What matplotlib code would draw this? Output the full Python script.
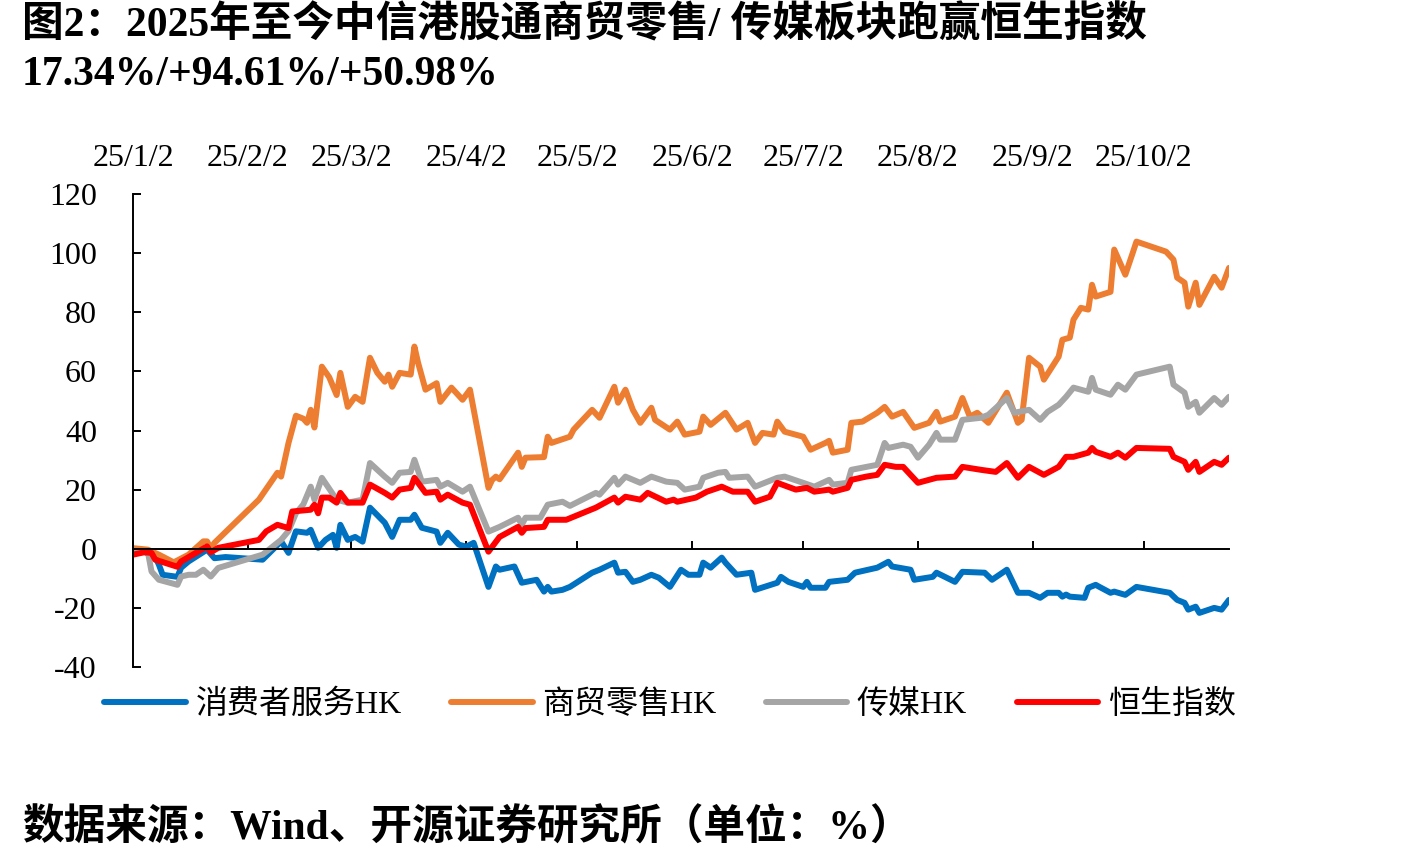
# -*- coding: utf-8 -*-
# 2025年至今 中信港股通 消费者服务 / 商贸零售 / 传媒 与 恒生指数 累计涨跌幅 (%)
import matplotlib
matplotlib.use("Agg")
import matplotlib.pyplot as plt
import pandas as pd

plt.rcParams['font.family'] = ['Liberation Serif', 'Noto Sans CJK SC']
plt.rcParams['axes.unicode_minus'] = False

# 数据 (读图估计, 单位 %)
blue_dates = ["01-02", "01-05", "01-08", "01-09", "01-10", "01-14", "01-15", "01-17", "01-22", "01-24",
              "01-27", "02-06", "02-11", "02-13", "02-15", "02-18", "02-19", "02-21", "02-23", "02-25",
              "02-26", "02-27", "03-01", "03-03", "03-05", "03-07", "03-11", "03-13", "03-15", "03-18",
              "03-19", "03-21", "03-25", "03-26", "03-28", "03-31", "04-02", "04-04", "04-08", "04-10",
              "04-11", "04-15", "04-17", "04-21", "04-23", "04-24", "04-25", "04-28", "04-30", "05-06",
              "05-08", "05-12", "05-13", "05-15", "05-17", "05-19", "05-22", "05-24", "05-27", "05-30",
              "06-01", "06-04", "06-05", "06-07", "06-10", "06-11", "06-14", "06-18", "06-19", "06-25",
              "06-26", "06-28", "07-02", "07-03", "07-04", "07-08", "07-09", "07-14", "07-16", "07-22",
              "07-25", "07-26", "07-31", "08-01", "08-06", "08-07", "08-12", "08-14", "08-20", "08-22",
              "08-26", "08-29", "09-01", "09-04", "09-06", "09-09", "09-10", "09-11", "09-12", "09-16",
              "09-17", "09-19", "09-20", "09-23", "09-24", "09-27", "09-30", "10-09", "10-11", "10-13",
              "10-14", "10-16", "10-17", "10-21", "10-23", "10-25"]
blue_vals = [-1.0, -1.0, -2.7, -5.4, -8.8, -9.5, -6.4, -4.3, -0.3, -3.2,
             -2.8, -3.7, 2.5, -1.4, 5.9, 5.4, 6.4, 0.3, 3.0, 4.7,
             0.3, 8.1, 3.0, 4.0, 2.4, 13.9, 8.8, 4.0, 9.8, 9.8,
             11.5, 7.1, 5.8, 2.0, 5.4, 1.4, 0.7, 2.0, -12.9, -6.0,
             -7.1, -6.0, -11.5, -10.5, -14.5, -12.9, -14.5, -13.9, -12.9, -8.1,
             -7.1, -4.7, -8.1, -7.8, -11.2, -10.5, -8.8, -9.8, -12.9, -7.1,
             -8.8, -8.8, -4.7, -6.4, -3.0, -4.7, -8.8, -8.1, -13.9, -11.5,
             -9.5, -11.2, -12.9, -11.2, -13.2, -13.2, -11.2, -10.5, -8.1, -6.4,
             -4.4, -6.0, -7.1, -10.5, -9.5, -8.1, -11.2, -7.8, -8.1, -10.5,
             -7.1, -14.9, -14.9, -16.6, -14.9, -14.9, -16.2, -15.5, -16.2, -16.6,
             -13.2, -12.2, -12.9, -14.9, -14.5, -15.6, -12.9, -14.9, -17.3, -18.3,
             -20.6, -19.6, -21.7, -20.0, -20.6, -17.3]

orange_dates = ["01-02", "01-06", "01-09", "01-13", "01-17", "01-21", "01-22", "01-23", "01-24", "02-05",
                "02-10", "02-11", "02-13", "02-15", "02-17", "02-18", "02-19", "02-20", "02-22", "02-24",
                "02-26", "02-27", "03-01", "03-03", "03-05", "03-07", "03-09", "03-11", "03-12", "03-13",
                "03-15", "03-18", "03-19", "03-20", "03-22", "03-25", "03-26", "03-29", "04-01", "04-03",
                "04-08", "04-09", "04-10", "04-11", "04-16", "04-17", "04-18", "04-23", "04-24", "04-25",
                "04-30", "05-01", "05-06", "05-08", "05-12", "05-13", "05-15", "05-17", "05-19", "05-22",
                "05-23", "05-27", "05-29", "05-31", "06-04", "06-05", "06-07", "06-11", "06-14", "06-17",
                "06-19", "06-21", "06-24", "06-25", "06-27", "07-02", "07-04", "07-08", "07-09", "07-10",
                "07-14", "07-15", "07-18", "07-22", "07-24", "07-26", "07-29", "08-01", "08-05", "08-07",
                "08-08", "08-12", "08-14", "08-16", "08-18", "08-21", "08-26", "08-29", "08-30", "09-01",
                "09-04", "09-05", "09-09", "09-10", "09-12", "09-13", "09-15", "09-17", "09-18", "09-19",
                "09-23", "09-24", "09-27", "09-29", "09-30", "10-08", "10-10", "10-11", "10-13", "10-14",
                "10-16", "10-17", "10-21", "10-23", "10-25"]
orange_vals = [0.2, -0.3, -2.0, -4.6, -2.0, 2.5, 2.5, 0.2, 2.0, 16.6,
               25.7, 24.4, 35.8, 45.0, 44.0, 42.6, 47.0, 41.0, 61.6, 58.0,
               52.0, 59.5, 48.0, 51.4, 49.7, 64.6, 59.5, 56.5, 58.9, 54.8,
               59.5, 58.9, 68.4, 62.9, 53.8, 56.0, 49.7, 54.5, 50.4, 53.8,
               20.6, 23.3, 24.4, 23.5, 32.5, 27.7, 30.8, 31.0, 37.9, 35.8,
               37.9, 40.3, 47.0, 44.3, 54.8, 49.4, 53.8, 47.0, 42.6, 47.7,
               43.6, 40.3, 43.0, 38.6, 39.6, 44.7, 41.9, 46.0, 40.3, 42.6,
               35.8, 39.2, 38.6, 43.0, 39.6, 37.9, 33.5, 35.8, 36.5, 32.5,
               33.5, 42.6, 43.0, 46.0, 48.0, 44.7, 46.3, 40.9, 42.6, 46.3,
               43.0, 44.7, 51.0, 44.7, 46.0, 42.6, 52.8, 42.6, 43.6, 64.6,
               61.6, 57.2, 65.0, 70.7, 71.4, 77.5, 81.5, 80.9, 89.3, 85.3,
               86.9, 101.2, 92.7, 100.1, 103.9, 100.5, 97.8, 91.7, 90.0, 81.9,
               90.0, 82.5, 92.0, 88.3, 95.0]

gray_dates = ["01-02", "01-06", "01-07", "01-09", "01-14", "01-15", "01-17", "01-19", "01-21", "01-23",
              "01-25", "02-06", "02-11", "02-13", "02-15", "02-17", "02-19", "02-20", "02-22", "02-26",
              "03-01", "03-05", "03-07", "03-11", "03-13", "03-15", "03-18", "03-19", "03-21", "03-25",
              "03-26", "03-28", "04-01", "04-03", "04-08", "04-11", "04-16", "04-17", "04-18", "04-22",
              "04-24", "04-28", "04-30", "05-07", "05-08", "05-12", "05-13", "05-15", "05-19", "05-22",
              "05-26", "05-29", "05-31", "06-04", "06-05", "06-09", "06-11", "06-12", "06-17", "06-19",
              "06-25", "06-27", "07-02", "07-05", "07-09", "07-10", "07-14", "07-15", "07-22", "07-24",
              "07-25", "07-29", "07-31", "08-02", "08-05", "08-07", "08-08", "08-12", "08-14", "08-19",
              "08-21", "08-26", "08-28", "09-01", "09-04", "09-06", "09-09", "09-11", "09-13", "09-17",
              "09-18", "09-19", "09-23", "09-25", "09-27", "09-30", "10-09", "10-10", "10-13", "10-14",
              "10-16", "10-17", "10-21", "10-23", "10-25"]
gray_vals = [-0.6, -1.0, -7.7, -10.5, -12.2, -9.4, -8.8, -8.8, -7.1, -9.4,
             -6.5, -2.0, 3.0, 6.0, 12.0, 15.0, 21.0, 16.6, 24.0, 16.6,
             15.6, 16.6, 29.0, 24.4, 22.3, 25.7, 26.0, 30.1, 22.7, 23.3,
             21.0, 22.3, 19.3, 21.0, 5.8, 7.4, 10.5, 8.1, 10.5, 10.5,
             14.9, 15.9, 14.5, 18.9, 18.3, 24.0, 21.7, 24.4, 22.3, 24.4,
             22.7, 22.3, 20.0, 21.0, 24.0, 25.7, 26.0, 24.0, 24.4, 21.0,
             24.0, 24.4, 22.3, 21.0, 23.3, 21.7, 22.3, 26.7, 28.4, 35.8,
             34.1, 35.2, 34.5, 30.8, 35.2, 39.2, 36.9, 36.9, 43.6, 44.3,
             45.3, 51.0, 46.0, 47.0, 43.6, 46.3, 48.7, 51.4, 54.5, 53.1,
             57.8, 53.8, 52.1, 55.5, 53.8, 58.9, 61.6, 55.5, 52.8, 48.0,
             49.7, 46.0, 51.0, 48.7, 51.4]

red_dates = ["01-02", "01-05", "01-07", "01-08", "01-14", "01-15", "01-22", "01-23", "01-25", "02-05",
             "02-07", "02-10", "02-13", "02-14", "02-19", "02-20", "02-21", "02-22", "02-24", "02-26",
             "02-27", "03-01", "03-05", "03-07", "03-11", "03-13", "03-15", "03-18", "03-19", "03-22",
             "03-25", "03-26", "03-28", "04-01", "04-03", "04-08", "04-11", "04-16", "04-17", "04-18",
             "04-23", "04-24", "04-29", "05-07", "05-12", "05-13", "05-15", "05-19", "05-21", "05-26",
             "05-28", "05-29", "06-03", "06-06", "06-10", "06-13", "06-17", "06-19", "06-23", "06-25",
             "06-30", "07-03", "07-05", "07-09", "07-10", "07-14", "07-15", "07-19", "07-22", "07-24",
             "07-27", "07-29", "08-02", "08-07", "08-12", "08-14", "08-19", "08-23", "08-26", "08-29",
             "09-01", "09-05", "09-09", "09-11", "09-13", "09-17", "09-18", "09-19", "09-23", "09-25",
             "09-27", "09-30", "10-09", "10-10", "10-13", "10-14", "10-16", "10-17", "10-21", "10-23",
             "10-25"]
red_vals = [-2.0, -1.2, -1.4, -3.7, -6.1, -4.3, 0.8, -1.2, 0.3, 3.0,
            5.9, 8.1, 7.0, 12.6, 13.2, 14.9, 12.0, 17.3, 17.3, 15.6,
            18.9, 15.6, 15.6, 21.7, 18.9, 17.3, 20.0, 20.6, 24.0, 18.9,
            19.3, 16.6, 18.3, 15.6, 14.9, -1.0, 4.0, 7.4, 5.4, 7.0,
            7.4, 9.8, 9.8, 13.9, 17.3, 15.6, 17.6, 16.6, 18.9, 15.9,
            16.6, 15.9, 17.3, 19.3, 21.0, 19.3, 19.3, 15.9, 17.6, 22.3,
            20.0, 20.6, 19.3, 20.0, 19.3, 20.6, 23.3, 24.4, 25.0, 28.4,
            27.7, 27.7, 22.3, 24.0, 24.4, 27.7, 26.7, 26.0, 29.0, 24.0,
            27.7, 25.0, 27.7, 31.1, 31.1, 32.5, 34.1, 32.8, 31.1, 32.5,
            30.8, 34.1, 33.8, 31.1, 29.4, 26.7, 29.4, 26.0, 29.4, 28.4,
            30.8]

labels = ["消费者服务HK", "商贸零售HK", "传媒HK", "恒生指数"]
colors = ["#0070C0", "#ED7D31", "#A5A5A5", "#FF0000"]

tick_months = [1, 2, 3, 4, 5, 6, 7, 8, 9, 10]
tick_labels = ["25/%d/2" % m for m in tick_months]

# 画图
W, H = 1424, 863
fig = plt.figure(figsize=(W / 100, H / 100), dpi=100)
ax = fig.add_axes([133 / W, 1 - 667 / H, (1229 - 133) / W, (667 - 194) / H])

all_series = [(blue_dates, blue_vals), (orange_dates, orange_vals),
              (gray_dates, gray_vals), (red_dates, red_vals)]
for (d, v), c, lab in zip(all_series, colors, labels):
    x = pd.to_datetime(["2025-" + s for s in d])
    ax.plot(x, v, color=c, lw=4.3, label=lab, solid_joinstyle='round', solid_capstyle='round')

ax.set_ylim(-40, 120)
ax.set_yticks(range(-40, 121, 20))
ax.set_xlim(pd.Timestamp("2025-01-02"), pd.Timestamp("2025-10-25"))
ax.set_xticks(pd.to_datetime(["2025-%02d-02" % m for m in tick_months]))
ax.set_xticklabels(tick_labels)

ax.spines['bottom'].set_position(('data', 0))
ax.spines['top'].set_visible(False)
ax.spines['right'].set_visible(False)
for s in ['left', 'bottom']:
    ax.spines[s].set_linewidth(1.4)

ax.tick_params(axis='x', bottom=True, top=False, labelbottom=False, labeltop=True,
               direction='in', length=6, width=1.4, pad=15, labelsize=23)
ax.tick_params(axis='y', direction='in', length=6, width=1.4, pad=26, labelsize=23)

fig.legend(loc='center', bbox_to_anchor=(0.4705, 1 - 705 / H), ncol=4, frameon=False,
           fontsize=23, handlelength=2.55, handletextpad=0.3, columnspacing=1.55)

# 标题和来源
fig.text(22 / W, 1 - 25 / H, "图2：2025年至今中信港股通商贸零售/ 传媒板块跑赢恒生指数",
         fontsize=30, fontweight='bold', ha='left', va='center')
fig.text(22 / W, 1 - 75 / H, "17.34%/+94.61%/+50.98%",
         fontsize=30, fontweight='bold', ha='left', va='center')
fig.text(22 / W, 1 - 828 / H, "数据来源：Wind、开源证券研究所（单位：%）",
         fontsize=30, fontweight='bold', ha='left', va='center')

fig.savefig("out.png", dpi=100)
